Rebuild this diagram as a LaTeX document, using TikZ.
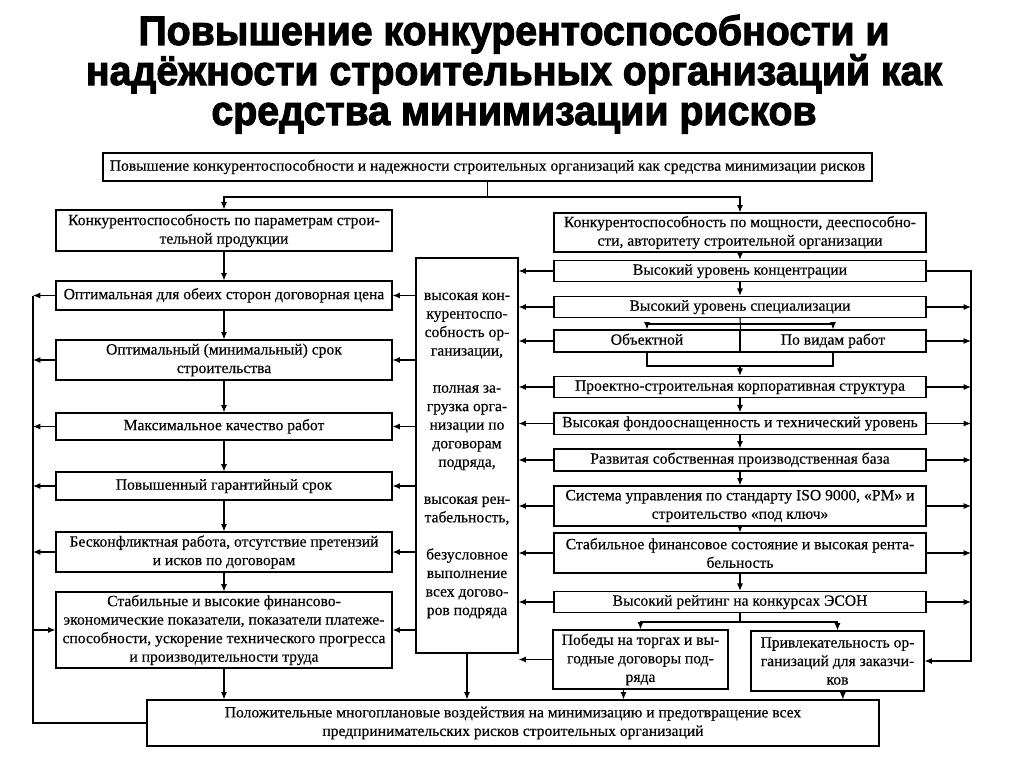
\documentclass[tikz,border=0pt]{standalone}
\usepackage{fontspec}
\setmainfont{Liberation Serif}[FakeBold=0.3]
\newfontfamily\titlefont{Liberation Sans}[BoldFeatures={FakeBold=2.5,FakeStretch=0.95}]
\usetikzlibrary{arrows.meta}
\tikzset{
  box/.style={draw, line width=0.9pt, fill=white, inner sep=1pt, align=center,
    font=\fontsize{11.7}{13.9}\selectfont},
  arr/.style={-{Latex[length=5.5pt,width=4.5pt]}, line width=0.8pt},
  ln/.style={line width=0.8pt},
  ttl/.style={font=\titlefont\bfseries\fontsize{31}{32}\selectfont, anchor=base, inner sep=0pt},
}
\newcommand\bxnode[6]{\node[box, minimum width={(#4-#2)*0.75pt}, minimum height={(#5-#3)*0.75pt}] (#1) at ({(#2+#4)/2},{(#3+#5)/2}) {#6};}
\begin{document}
\begin{tikzpicture}[x=0.75pt,y=-0.75pt]
\useasboundingbox[fill=white] (0,0) rectangle (1024,767);
% title
\node[ttl] (t1) at (514,45) {Повышение конкурентоспособности и};
\node[ttl] (t2) at (514,85) {надёжности строительных организаций как};
\node[ttl] (t3) at (514,125) {средства минимизации рисков};
% top box
\bxnode{T}{103}{153}{872}{181}{\strut Повышение конкурентоспособности и надежности строительных организаций как средства минимизации рисков}
% left column
\bxnode{L0}{56}{210}{392}{251}{Конкурентоспособность по параметрам строи-\\тельной продукции}
\bxnode{L1}{56}{281}{392}{310}{\strut Оптимальная для обеих сторон договорная цена}
\bxnode{L2}{56}{340}{392}{380}{Оптимальный (минимальный) срок\\строительства}
\bxnode{L3}{56}{413}{392}{440}{\strut Максимальное качество работ}
\bxnode{L4}{56}{472}{392}{500}{\strut Повышенный гарантийный срок}
\bxnode{L5}{56}{532}{392}{572}{Бесконфликтная работа, отсутствие претензий\\и исков по договорам}
\bxnode{L6}{56}{592}{392}{668}{Стабильные и высокие финансово-\\экономические показатели, показатели платеже-\\способности, ускорение технического прогресса\\и производительности труда}
% middle box
\bxnode{M}{416}{258}{518}{653}{высокая кон-\\курентоспо-\\собность ор-\\ганизации,\\[13.9pt]полная за-\\грузка орга-\\низации по\\договорам\\подряда,\\[13.9pt]высокая рен-\\табельность,\\[13.9pt]безусловное\\выполнение\\всех догово-\\ров подряда}
% right column
\bxnode{R0}{554}{213}{926}{252}{Конкурентоспособность по мощности, дееспособно-\\сти, авторитету строительной организации}
\bxnode{R1}{554}{261}{926}{281}{\strut Высокий уровень концентрации}
\bxnode{R2}{554}{297}{926}{317}{\strut Высокий уровень специализации}
\bxnode{R3a}{554}{330}{740}{352}{\strut Объектной}
\bxnode{R3b}{740}{330}{926}{352}{\strut По видам работ}
\bxnode{R4}{554}{377}{926}{397}{\strut Проектно-строительная корпоративная структура}
\bxnode{R5}{554}{413}{926}{434}{\strut Высокая фондооснащенность и технический уровень}
\bxnode{R6}{554}{449}{926}{471}{\strut Развитая собственная производственная база}
\bxnode{R7}{554}{486}{926}{526}{Система управления по стандарту ISO 9000, «PM» и\\строительство «под ключ»}
\bxnode{R8}{554}{533}{926}{573}{Стабильное финансовое состояние и высокая рента-\\бельность}
\bxnode{R9}{554}{592}{926}{612}{\strut Высокий рейтинг на конкурсах ЭСОН}
\bxnode{R10a}{553}{630}{728}{689}{Победы на торгах и вы-\\годные договоры под-\\ряда}
\bxnode{R10b}{751}{631}{924}{691}{Привлекательность ор-\\ганизаций для заказчи-\\ков}
% bottom box
\bxnode{B}{147}{700}{879}{746}{Положительные многоплановые воздействия на минимизацию и предотвращение всех\\предпринимательских рисков строительных организаций}
% helper coordinates
\coordinate (J) at (487.5,197);
\coordinate (LL) at (33,0);
\coordinate (RL) at (971,0);
\coordinate (K1) at (740,324);
\coordinate (K2) at (740,366);
\coordinate (K3) at (740,622);
% top split
\draw[ln] (T.south) -- (J);
\draw[arr] (J) -| (L0.north);
\draw[arr] (J) -| (R0.north);
% left column chain
\draw[arr] (L0.south) -- (L1.north);
\draw[arr] (L1.south) -- (L2.north);
\draw[arr] (L2.south) -- (L3.north);
\draw[arr] (L3.south) -- (L4.north);
\draw[arr] (L4.south) -- (L5.north);
\draw[arr] (L5.south) -- (L6.north);
\draw[arr] (L6.south) -- (L6.south |- B.north);
% left feedback line
\foreach \n in {L1,L2,L3,L4,L5}{\draw[arr] (\n.west) -- (\n.west -| LL);}
\draw[ln] (L1.west -| LL) -- (B.west -| LL) -- (B.west);
\draw[arr] (L6.west -| LL) -- (L6.west);
% middle box to left boxes
\foreach \n in {L1,L2,L3,L4,L5,L6}{\draw[arr] (\n.east -| M.west) -- (\n.east);}
\draw[arr] (M.south) -- (M.south |- B.north);
% right boxes to middle box
\foreach \n in {R1,R2,R3a,R4,R5,R6,R7,R8,R9,R10a}{\draw[arr] (\n.west) -- (\n.west -| M.east);}
% right column chain
\draw[arr] (R0.south) -- (R1.north);
\draw[arr] (R1.south) -- (R2.north);
\draw[ln] (R2.south) -- (R3a.north east);
\draw[arr] (K1) -| (R3a.north);
\draw[arr] (K1) -| (R3b.north);
\draw[ln] (R3a.south) |- (K2) -| (R3b.south);
\draw[arr] (K2) -- (R4.north);
\draw[arr] (R4.south) -- (R5.north);
\draw[arr] (R5.south) -- (R6.north);
\draw[arr] (R6.south) -- (R7.north);
\draw[arr] (R7.south) -- (R8.north);
\draw[arr] (R8.south) -- (R9.north);
\draw[ln] (R9.south) -- (K3);
\draw[arr] (K3) -| (R10a.north);
\draw[arr] (K3) -| (R10b.north);
\draw[arr] ([xshift=-12.75pt]R10a.south) -- ([xshift=-12.75pt]R10a.south |- B.north);
\draw[arr] ([xshift=4pt]R10b.south) -- ([xshift=4pt]R10b.south |- B.north);
% right feedback line
\draw[arr] (R1.east) -| (R10b.east -| RL) -- (R10b.east);
\foreach \n in {R2,R3b,R4,R5,R6,R7,R8,R9}{\draw[arr] (\n.east) -- (\n.east -| RL);}
\end{tikzpicture}
\end{document}
